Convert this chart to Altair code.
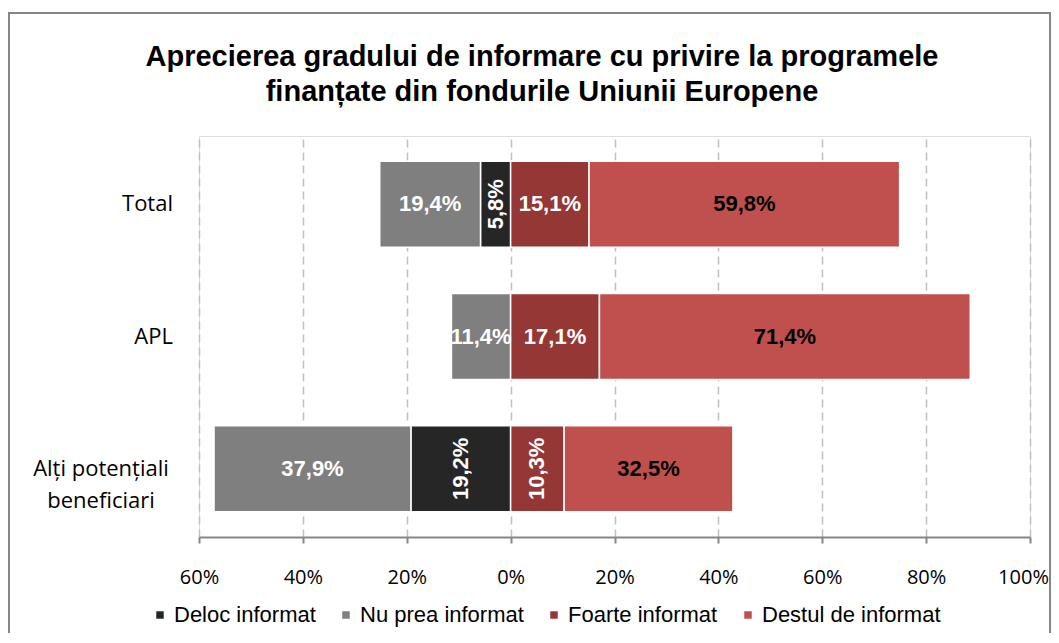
import altair as alt
import pandas as pd

# ---- data ----
categories = ["Total", "APL", "Alți potențiali beneficiari"]
category_lines = ["Total", "APL", "Alți potențiali\nbeneficiari"]
series = ["Deloc informat", "Nu prea informat", "Foarte informat", "Destul de informat"]
deloc = [5.8, 0.0, 19.2]
nu_prea = [19.4, 11.4, 37.9]
foarte = [15.1, 17.1, 10.3]
destul = [59.8, 71.4, 32.5]
colors = ["#262626", "#7f7f7f", "#953735", "#c0504d"]
# labels written vertically in the reference
rotated = {("Total", "Deloc informat"), ("Alți potențiali beneficiari", "Deloc informat"),
           ("Alți potențiali beneficiari", "Foarte informat")}
tick_values = [-60, -40, -20, 0, 20, 40, 60, 80, 100]
title_lines = ["Aprecierea gradului de informare cu privire la programele",
               "finanțate din fondurile Uniunii Europene"]

rows = []
for i, cat in enumerate(categories):
    d, n, f, s = deloc[i], nu_prea[i], foarte[i], destul[i]
    segs = [
        ("Deloc informat", -d, 0.0, d),
        ("Nu prea informat", -(d + n), -d, n),
        ("Foarte informat", 0.0, f, f),
        ("Destul de informat", f, f + s, s),
    ]
    for name, a, b, v in segs:
        if v <= 0:
            continue
        rows.append({
            "cat": cat, "series": name, "start": a, "end": b, "mid": (a + b) / 2,
            "value": v, "label": f"{v:.1f}".replace(".", ",") + "%",
            "rot": (cat, name) in rotated,
        })
df = pd.DataFrame(rows)
lab_df = pd.DataFrame({"cat": categories, "text": category_lines})
lab_df["multi"] = lab_df["text"].str.contains("\n")
title_df = pd.DataFrame({"t": ["\n".join(title_lines)]})

W, H = 831, 401
ysc = alt.Scale(domain=categories, paddingInner=0.35, paddingOuter=0.19)
xsc = alt.Scale(domain=[-60, 100], nice=False, zero=False)

bars = alt.Chart(df).mark_bar(stroke="white", strokeWidth=1.5).encode(
    x=alt.X("start:Q", scale=xsc, title=None,
            axis=alt.Axis(values=tick_values, labelExpr="abs(datum.value) + '%'",
                          grid=True, gridDash=[8, 5], gridColor="#c0c0c0", gridWidth=1.5,
                          domainColor="#868686", domainWidth=2, tickColor="#868686",
                          tickWidth=2, tickSize=6, labelPadding=24, labelFont="Open Sans",
                          labelFontSize=20, labelColor="black", labelFlush=False,
                          labelOverlap=False,
                          labelOffset={"condition": {"test": "datum.value == 100", "value": -7},
                                       "value": 0})),
    x2="end:Q",
    y=alt.Y("cat:N", scale=ysc, sort=categories, axis=None),
    color=alt.Color("series:N", scale=alt.Scale(domain=series, range=colors),
                    legend=alt.Legend(title=None, orient="none", direction="horizontal",
                                      legendX=-50, legendY=468, columns=4,
                                      symbolType="square", symbolSize=56, symbolStrokeWidth=0,
                                      labelFont="Liberation Sans", labelFontSize=22,
                                      labelColor="black", labelOffset=3, columnPadding=19,
                                      labelLimit=0)),
)

txt_color = alt.condition(alt.datum.series == "Destul de informat", alt.value("black"), alt.value("white"))

labels_h = alt.Chart(df).transform_filter("!datum.rot").mark_text(
    font="Liberation Sans", fontSize=22, fontWeight="bold", baseline="middle", align="center"
).encode(x=alt.X("mid:Q", scale=xsc), y=alt.Y("cat:N", scale=ysc, sort=categories),
         text="label:N", color=txt_color)

labels_v = alt.Chart(df).transform_filter("datum.rot").mark_text(
    font="Liberation Sans", fontSize=22, fontWeight="bold", baseline="middle", align="center",
    angle=270
).encode(x=alt.X("mid:Q", scale=xsc), y=alt.Y("cat:N", scale=ysc, sort=categories),
         text="label:N", color=txt_color)

ylab_single = alt.Chart(lab_df).transform_filter("!datum.multi").mark_text(
    font="Open Sans", fontSize=22, align="right", baseline="middle", color="black"
).encode(x=alt.value(-26), y=alt.Y("cat:N", scale=ysc, sort=categories), text="text:N")

ylab_multi = alt.Chart(lab_df).transform_filter("datum.multi").mark_text(
    font="Open Sans", fontSize=22, align="center", baseline="middle", color="black",
    lineBreak="\n", lineHeight=32
).encode(x=alt.value(-98), y=alt.Y("cat:N", scale=ysc, sort=categories), text="text:N")

title = alt.Chart(title_df).mark_text(
    font="Liberation Sans", fontSize=29, fontWeight="bold", align="center",
    baseline="alphabetic", color="black", lineBreak="\n", lineHeight=35
).encode(x=alt.value(343), y=alt.value(-70), text="t:N")

frame = alt.Chart(pd.DataFrame({"k": [0]})).mark_rect(
    fill=None, stroke="#868686", strokeWidth=2
).encode(x=alt.value(-190), x2=alt.value(851), y=alt.value(-123), y2=alt.value(600))

chart = alt.layer(frame, title, bars, labels_h, labels_v, ylab_single, ylab_multi).properties(
    width=W, height=H,
    autosize=alt.AutoSizeParams(type="none"),
    padding={"left": 191, "top": 128, "right": 21, "bottom": 96},
).configure_view(stroke=None).configure(background="white")

chart.save("out.html", embed_options={"renderer": "svg", "actions": False})
